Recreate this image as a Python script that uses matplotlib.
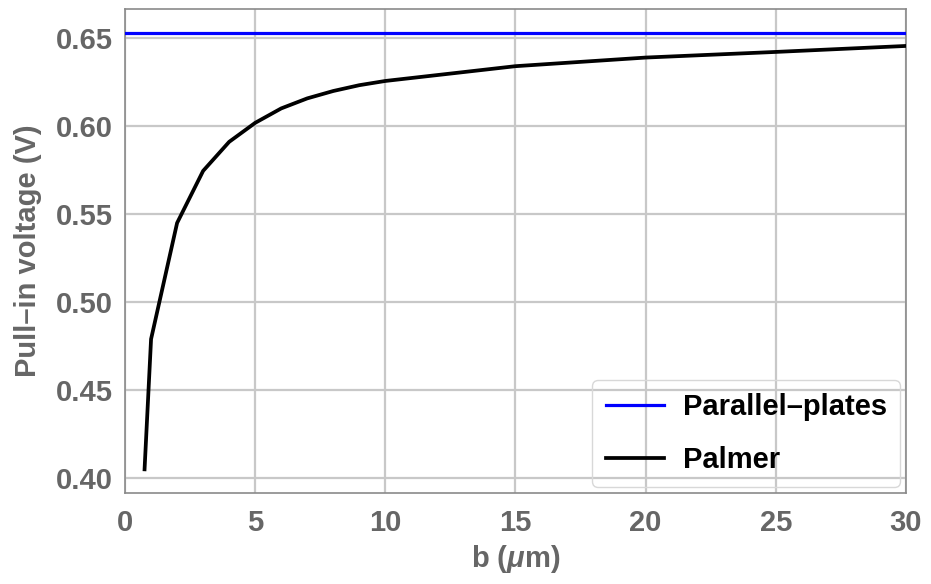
import numpy as np
import matplotlib
matplotlib.use("Agg")
import matplotlib.pyplot as plt

plt.rcParams['font.family'] = ['Liberation Sans', 'DejaVu Sans']
plt.rcParams['font.weight'] = 'bold'
plt.rcParams['axes.labelweight'] = 'bold'
plt.rcParams['mathtext.fontset'] = 'custom'
plt.rcParams['mathtext.rm'] = 'Liberation Sans:bold'
plt.rcParams['mathtext.it'] = 'Liberation Sans:italic:bold'

# pull-in voltage vs. b
b_um = [0.75, 1, 2, 3, 4, 5, 6, 7, 8, 9, 10, 15, 20, 25, 30]
v_palmer = [0.405, 0.479, 0.545, 0.5746, 0.5911, 0.6019, 0.6101, 0.6158,
            0.6200, 0.6233, 0.6257, 0.6341, 0.6390, 0.6422, 0.6456]
v_parallel = 0.6528

xticks = [0, 5, 10, 15, 20, 25, 30]
yticks = [0.40, 0.45, 0.50, 0.55, 0.60, 0.65]

gray = '#666666'
fs = 21
fig = plt.figure(figsize=(9.31, 5.84), dpi=100)
ax = fig.add_axes([0.1343, 0.1563, 0.8388, 0.8283])

ax.axhline(v_parallel, color='#0000ff', lw=2.3, label='Parallel–plates', zorder=3)
ax.plot(b_um, v_palmer, color='black', lw=2.7, label='Palmer', zorder=3)

ax.set_xlim(0, 30)
ax.set_ylim(0.3917, 0.6666)
ax.set_xticks(xticks)
ax.set_yticks(yticks)
ax.set_yticklabels([f"{t:.2f}" for t in yticks])
ax.grid(True, color='#c8c8c8', lw=1.6, zorder=0)
ax.set_axisbelow(True)
ax.tick_params(length=0, labelsize=fs, colors=gray)
ax.tick_params(axis='x', pad=12)
ax.tick_params(axis='y', pad=9)
for s in ax.spines.values():
    s.set_color('#8a8a8a')
    s.set_linewidth(1.2)

ax.set_xlabel(r"b ($\mu$m)", fontsize=fs, color=gray, labelpad=4)
ax.set_ylabel("Pull–in voltage (V)", fontsize=fs, color=gray, labelpad=10)

leg = ax.legend(loc='lower right', fontsize=fs, frameon=True, fancybox=True,
                handlelength=2.0, borderpad=0.45, labelspacing=0.85,
                handletextpad=0.65, borderaxespad=0.2)
frame = leg.get_frame()
frame.set_facecolor('none')
frame.set_edgecolor('#d8d8d8')
frame.set_linewidth(1.0)
frame.set_alpha(None)
for t in leg.get_texts():
    t.set_color('black')

fig.savefig("out.png", dpi=100)
